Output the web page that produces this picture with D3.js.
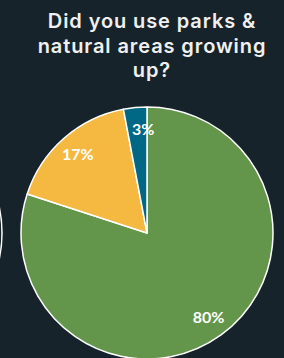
<!DOCTYPE html>
<html>
<head>
<meta charset="utf-8">
<script src="https://cdn.jsdelivr.net/npm/d3@7"></script>
<style>
  html, body { margin: 0; padding: 0; background: #17232a; }
  svg { display: block; }
</style>
</head>
<body>
<div id="chart"></div>
<script>
// Pie: Did you use parks & natural areas growing up?

const titleLines = ['Did you use parks &', 'natural areas growing', 'up?'];
const answers = ['Yes', 'Sometimes', 'No'];
const shares = [80, 17, 3];
const colors = ['#63964a', '#f5b942', '#006884'];

const width = 284;
const height = 358;
const cx = 147;
const cy = 233;
const radius = 126;

const svg = d3.select('#chart')
  .append('svg')
  .attr('width', width)
  .attr('height', height);

svg.append('rect')
  .attr('width', width)
  .attr('height', height)
  .attr('fill', '#17232a');

// Title
svg.append('text')
  .attr('x', 152)
  .attr('y', 28)
  .attr('text-anchor', 'middle')
  .style('font-family', 'Inter, sans-serif')
  .style('font-size', '20px')
  .style('font-weight', '600')
  .style('letter-spacing', '0.9px')
  .style('fill', '#f0f0f0')
  .selectAll('tspan')
  .data(titleLines)
  .enter()
  .append('tspan')
  .attr('x', 152)
  .attr('dy', (d, i) => i === 0 ? 0 : 24.5)
  .text(d => d);

// Edge of the neighbouring pie, cut off at the left
svg.append('circle')
  .attr('cx', 2 - radius)
  .attr('cy', cy)
  .attr('r', radius)
  .attr('fill', 'none')
  .attr('stroke', '#ffffff')
  .attr('stroke-width', 1.5);

const pie = d3.pie().sort(null).value(d => d);
const arcs = pie(shares);

const arc = d3.arc().innerRadius(0).outerRadius(radius);
const labelArc = d3.arc().innerRadius(radius * 0.83).outerRadius(radius * 0.83);

const g = svg.append('g')
  .attr('transform', `translate(${cx},${cy})`);

g.selectAll('path')
  .data(arcs)
  .enter()
  .append('path')
  .attr('d', arc)
  .attr('fill', (d, i) => colors[i])
  .attr('stroke', '#ffffff')
  .attr('stroke-width', 1.5)
  .attr('stroke-linejoin', 'round');

g.selectAll('.label')
  .data(arcs)
  .enter()
  .append('text')
  .attr('class', 'label')
  .attr('transform', d => `translate(${labelArc.centroid(d)})`)
  .attr('dx', (d, i) => i === 2 ? 6 : 0)
  .attr('text-anchor', 'middle')
  .attr('dy', '0.36em')
  .style('font-family', 'Lato, sans-serif')
  .style('font-size', '16px')
  .style('font-weight', '700')
  .style('fill', '#ffffff')
  .text(d => d.data + '%');
</script>
</body>
</html>
